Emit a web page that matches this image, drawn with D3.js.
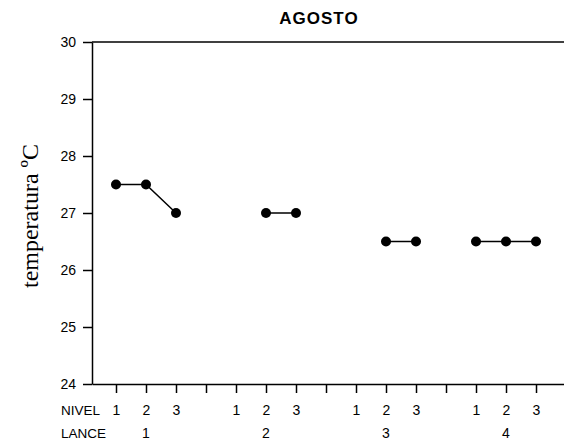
<!DOCTYPE html>
<html>
<head>
<meta charset="utf-8">
<script src="https://cdn.jsdelivr.net/npm/d3@7"></script>
<style>
  html, body { margin: 0; padding: 0; background: #fff; }
  svg { display: block; }
</style>
</head>
<body>
<svg id="chart" width="564" height="446"></svg>
<script>
// ---- data ----
const title = "AGOSTO";
const yLabel = "temperatura ºC";
const positions = [1, 2, 3, 4, 5, 6, 7, 8, 9, 10, 11, 12, 13, 14, 15];
const nivelLabels = ["1", "2", "3", "", "1", "2", "3", "", "1", "2", "3", "", "1", "2", "3"];
const lancePositions = [2, 6, 10, 14];
const lanceLabels = ["1", "2", "3", "4"];
const temperature = [27.5, 27.5, 27.0, null, null, 27.0, 27.0, null, null, 26.5, 26.5, null, 26.5, 26.5, 26.5];
const yTicks = [24, 25, 26, 27, 28, 29, 30];

// ---- chart ----
(function () {
const svg = d3.select("#chart");
const mLeft = 92, mRight = 564, mTop = 42, mBottom = 384;

const x = d3.scaleLinear().domain([0.2, 15.933]).range([mLeft, mRight]);
const y = d3.scaleLinear().domain([24, 30]).range([mBottom, mTop]);

const font = "Liberation Sans, Arial, sans-serif";

// title
svg.append("text")
  .attr("x", 319).attr("y", 23.5)
  .attr("text-anchor", "middle")
  .attr("font-family", font).attr("font-weight", "bold").attr("font-size", 17)
  .attr("letter-spacing", 1)
  .text(title);

// top frame line
svg.append("line")
  .attr("x1", mLeft).attr("x2", mRight)
  .attr("y1", y(30)).attr("y2", y(30))
  .attr("stroke", "#000").attr("stroke-width", 1.5);

// y axis
const yAxis = svg.append("g")
  .attr("transform", `translate(${mLeft},0)`)
  .call(d3.axisLeft(y).tickValues(yTicks).tickFormat(d3.format("d")).tickSize(9).tickPadding(7).tickSizeOuter(0));
yAxis.select(".domain").attr("stroke-width", 1.5);
yAxis.selectAll(".tick line").attr("stroke-width", 1.5);
yAxis.selectAll("text").attr("font-family", font).attr("font-size", 14).attr("fill", "#000");

// x axis (NIVEL)
const xAxis = svg.append("g")
  .attr("transform", `translate(0,${mBottom})`)
  .call(d3.axisBottom(x).tickValues(positions).tickFormat((d, i) => nivelLabels[i]).tickSize(9).tickPadding(12).tickSizeOuter(0));
xAxis.select(".domain").attr("stroke-width", 1.5);
xAxis.selectAll(".tick line").attr("stroke-width", 1.5);
xAxis.selectAll("text").attr("font-family", font).attr("font-size", 14).attr("fill", "#000");

// row labels
svg.append("text").attr("x", 61).attr("y", 415)
  .attr("font-family", font).attr("font-size", 13.5).text("NIVEL");
svg.append("text").attr("x", 61).attr("y", 438)
  .attr("font-family", font).attr("font-size", 13.5).text("LANCE");

// LANCE labels
svg.append("g").selectAll("text")
  .data(lancePositions)
  .join("text")
  .attr("x", d => x(d))
  .attr("y", 438)
  .attr("text-anchor", "middle")
  .attr("font-family", font).attr("font-size", 14)
  .text((d, i) => lanceLabels[i]);

// y label
svg.append("text")
  .attr("transform", `translate(38,216) rotate(-90)`)
  .attr("text-anchor", "middle")
  .attr("font-family", "Liberation Serif, Times New Roman, serif")
  .attr("font-size", 24)
  .text(yLabel);

// line + points
const pts = positions.map((p, i) => ({ p, v: temperature[i] }));
const line = d3.line()
  .defined(d => d.v !== null)
  .x(d => x(d.p)).y(d => y(d.v));
svg.append("path")
  .datum(pts)
  .attr("d", line)
  .attr("fill", "none").attr("stroke", "#000").attr("stroke-width", 1.5);
svg.append("g").selectAll("circle")
  .data(pts.filter(d => d.v !== null))
  .join("circle")
  .attr("cx", d => x(d.p)).attr("cy", d => y(d.v))
  .attr("r", 5).attr("fill", "#000");
})();
</script>
</body>
</html>
